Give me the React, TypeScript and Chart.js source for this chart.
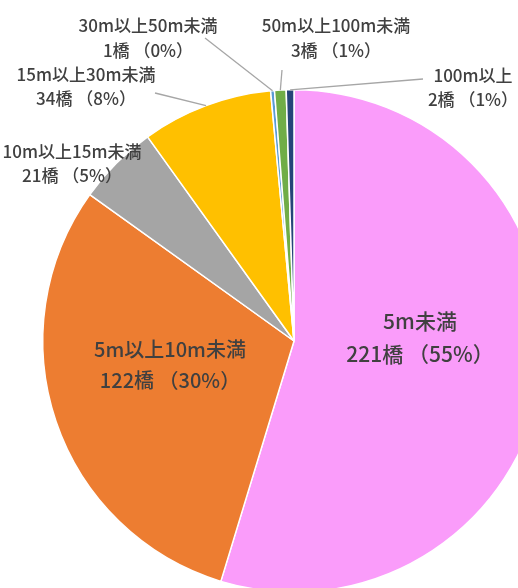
import React, { useEffect, useRef } from "react";
import { Chart, registerables } from "chart.js";

Chart.register(...registerables);

const categories = [
  "5m未満",
  "5m以上10m未満",
  "10m以上15m未満",
  "15m以上30m未満",
  "30m以上50m未満",
  "50m以上100m未満",
  "100m以上",
];
const counts = [221, 122, 21, 34, 1, 3, 2];
const percents = [55, 30, 5, 8, 0, 1, 1];
const colors = ["#FA9CFA", "#ED7D31", "#A5A5A5", "#FFC000", "#5B9BD5", "#70AD47", "#264478"];

// label layout (text centers in canvas px), font size, line height, leader line end (null = none)
const labelLayout = [
  { x: 420, y: 321, size: 21, lh: 33, leader: null as null | [number, number] },
  { x: 170, y: 349, size: 20, lh: 31, leader: null },
  { x: 72, y: 152, size: 17, lh: 24, leader: null },
  { x: 86, y: 75, size: 17, lh: 24, leader: [155, 93] as [number, number] },
  { x: 148, y: 26, size: 17, lh: 25, leader: [205, 38] as [number, number] },
  { x: 336, y: 26, size: 17, lh: 25, leader: [282, 70] as [number, number] },
  { x: 473, y: 76, size: 17, lh: 24, leader: [423, 79] as [number, number] },
];

const FONT = '"Noto Sans CJK JP", "Noto Sans", sans-serif';

const labelPlugin = {
  id: "pieLabels",
  afterDraw(chart: any) {
    const ctx = chart.ctx as CanvasRenderingContext2D;
    const meta = chart.getDatasetMeta(0);
    ctx.save();
    meta.data.forEach((arc: any, i: number) => {
      const lay = labelLayout[i];
      if (lay.leader) {
        const mid = (arc.startAngle + arc.endAngle) / 2;
        const sx = arc.x + Math.cos(mid) * arc.outerRadius;
        const sy = arc.y + Math.sin(mid) * arc.outerRadius;
        ctx.strokeStyle = "#A6A6A6";
        ctx.lineWidth = 1.3;
        ctx.beginPath();
        ctx.moveTo(sx, sy);
        ctx.lineTo(lay.leader[0], lay.leader[1]);
        ctx.stroke();
      }
      ctx.fillStyle = "#404040";
      ctx.font = `500 ${lay.size}px ${FONT}`;
      ctx.textAlign = "center";
      ctx.textBaseline = "middle";
      ctx.fillText(categories[i], lay.x, lay.y);
      ctx.fillText(`${counts[i]}橋 （${percents[i]}%）`, lay.x, lay.y + lay.lh);
    });
    ctx.restore();
  },
};

export default function App() {
  const ref = useRef<HTMLCanvasElement>(null);
  useEffect(() => {
    if (!ref.current) return;
    const chart = new Chart(ref.current, {
      type: "pie",
      data: {
        labels: categories,
        datasets: [
          {
            data: counts,
            backgroundColor: colors,
            borderColor: "#FFFFFF",
            borderWidth: 1.5,
          },
        ],
      },
      options: {
        responsive: false,
        animation: false,
        layout: { padding: { left: 42, right: 54, top: 89, bottom: 57 } },
        plugins: {
          legend: { display: false },
          tooltip: { enabled: false },
        },
      },
      plugins: [labelPlugin],
    });
    return () => chart.destroy();
  }, []);
  return (
    <div
      style={{
        position: "fixed",
        left: 0,
        top: 0,
        width: 518,
        height: 588,
        overflow: "hidden",
        background: "#FFFFFF",
      }}
    >
      <canvas ref={ref} width={600} height={650} style={{ display: "block" }} />
    </div>
  );
}
